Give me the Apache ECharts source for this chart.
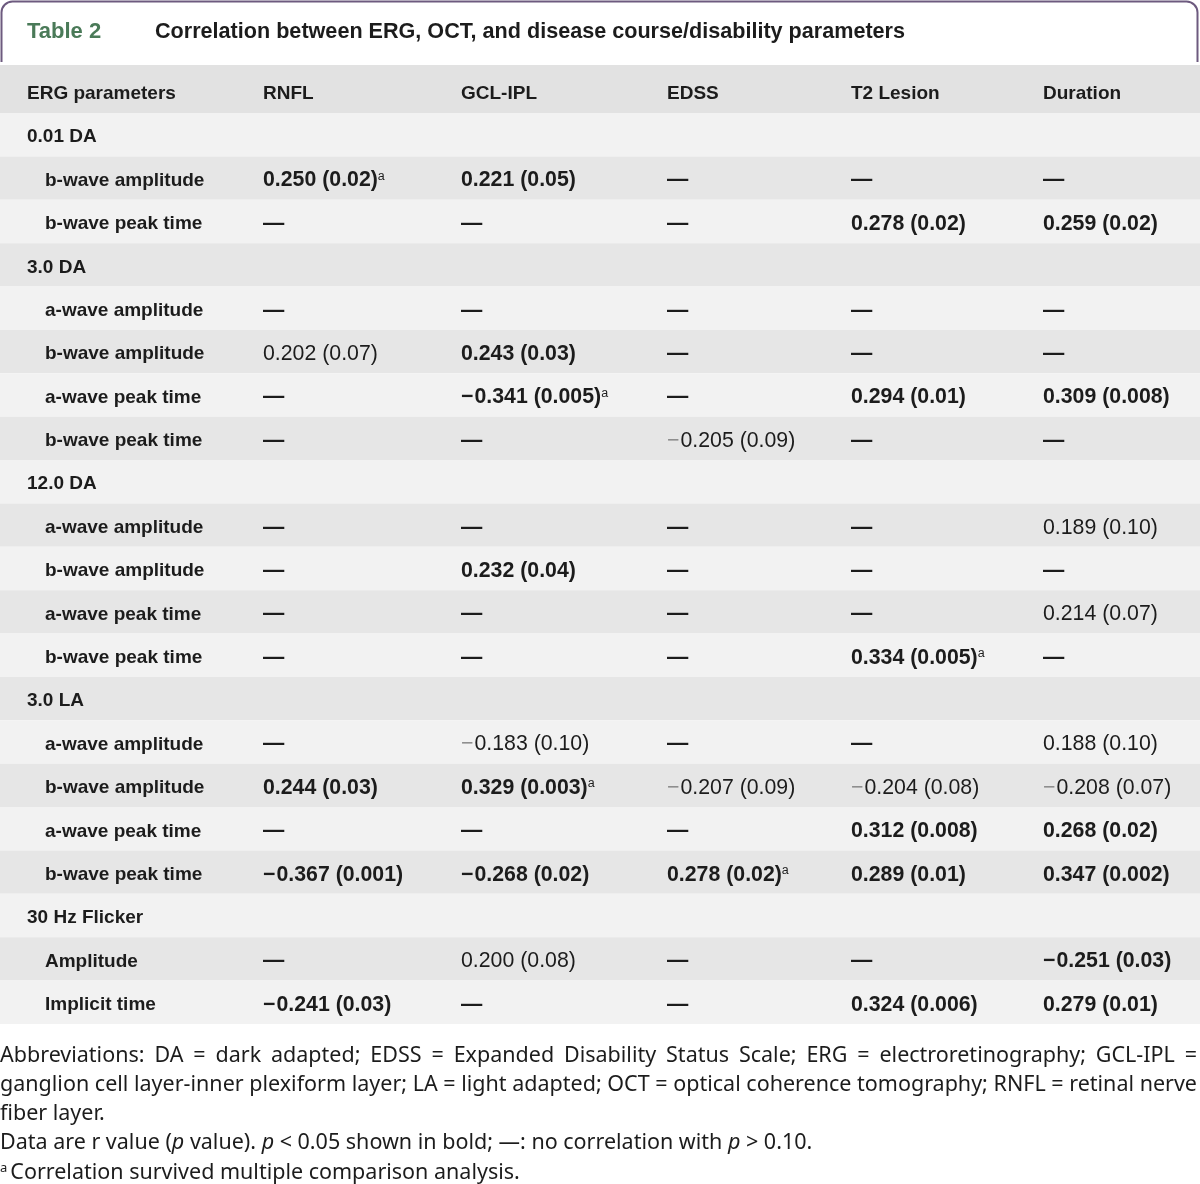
<!DOCTYPE html>
<html><head><meta charset="utf-8">
<script src="https://cdn.jsdelivr.net/npm/echarts@6/dist/echarts.min.js"></script>
<style>html,body{margin:0;padding:0;background:#fff}#c{width:1200px;height:1184px}</style>
</head><body><div id="c"></div>
<script>
// ---------- DATA ----------
const tableLabel = 'Table 2';
const tableTitle = 'Correlation between ERG, OCT, and disease course/disability parameters';
const columns = ['ERG parameters', 'RNFL', 'GCL-IPL', 'EDSS', 'T2 Lesion', 'Duration'];
const rowLabels = [
  '0.01 DA', 'b-wave amplitude', 'b-wave peak time',
  '3.0 DA', 'a-wave amplitude', 'b-wave amplitude', 'a-wave peak time', 'b-wave peak time',
  '12.0 DA', 'a-wave amplitude', 'b-wave amplitude', 'a-wave peak time', 'b-wave peak time',
  '3.0 LA', 'a-wave amplitude', 'b-wave amplitude', 'a-wave peak time', 'b-wave peak time',
  '30 Hz Flicker', 'Amplitude', 'Implicit time'
];
const groupRows = ['0.01 DA', '3.0 DA', '12.0 DA', '3.0 LA', '30 Hz Flicker'];
// cell notation: leading '*' = bold (p < 0.05), trailing '^' = superscript a, '' = group row
const RNFL = ['', '*0.250 (0.02)^', '—', '', '—', '0.202 (0.07)', '—', '—', '', '—', '—', '—', '—', '', '—', '*0.244 (0.03)', '—', '*−0.367 (0.001)', '', '—', '*−0.241 (0.03)'];
const GCL_IPL = ['', '*0.221 (0.05)', '—', '', '—', '*0.243 (0.03)', '*−0.341 (0.005)^', '—', '', '—', '*0.232 (0.04)', '—', '—', '', '−0.183 (0.10)', '*0.329 (0.003)^', '—', '*−0.268 (0.02)', '', '0.200 (0.08)', '—'];
const EDSS = ['', '—', '—', '', '—', '—', '—', '−0.205 (0.09)', '', '—', '—', '—', '—', '', '—', '−0.207 (0.09)', '—', '*0.278 (0.02)^', '', '—', '—'];
const T2_LESION = ['', '—', '*0.278 (0.02)', '', '—', '—', '*0.294 (0.01)', '—', '', '—', '—', '—', '*0.334 (0.005)^', '', '—', '−0.204 (0.08)', '*0.312 (0.008)', '*0.289 (0.01)', '', '—', '*0.324 (0.006)'];
const DURATION = ['', '—', '*0.259 (0.02)', '', '—', '—', '*0.309 (0.008)', '—', '', '0.189 (0.10)', '—', '0.214 (0.07)', '—', '', '0.188 (0.10)', '−0.208 (0.07)', '*0.268 (0.02)', '*0.347 (0.002)', '', '*−0.251 (0.03)', '*0.279 (0.01)'];
const footLine1 = 'Abbreviations: DA = dark adapted; EDSS = Expanded Disability Status Scale; ERG = electroretinography; GCL-IPL =';
const footLine2 = 'ganglion cell layer-inner plexiform layer; LA = light adapted; OCT = optical coherence tomography; RNFL = retinal nerve';
const footLine3 = 'fiber layer.';
const footLine4 = 'Data are r value ({i|p} value). {i|p} < 0.05 shown in bold; —: no correlation with {i|p} > 0.10.';
const footLine5 = '{sup|a}Correlation survived multiple comparison analysis.';

// ---------- STYLE / LAYOUT ----------
const valueCols = [RNFL, GCL_IPL, EDSS, T2_LESION, DURATION];
const colX = [27, 263, 461, 667, 851, 1043];
const subX = 45;
const INK = '#1c1c1c';
const FAM = '"Liberation Sans", Arial, sans-serif';
const FN_FAM = '"Noto Sans", sans-serif';
const FN_SIZE = 21.5;
const VAL_SIZE = 21.3;
const BODY_DY = 2.5, HEAD_DY = 4.5;
const HEAD_BG = '#e2e2e2', DARK_BG = '#e6e6e6', LIGHT_BG = '#f2f2f2';

const richCell = {
  b: {fontFamily: FAM, fontSize: VAL_SIZE, fontWeight: 'bold', fill: INK},
  r: {fontFamily: FAM, fontSize: VAL_SIZE, fontWeight: 'normal', fill: INK},
  bm: {fontFamily: FAM, fontSize: VAL_SIZE, fontWeight: 'bold', fill: INK, padding: [0, 1, 0, 0]},
  rm: {fontFamily: FAM, fontSize: VAL_SIZE, fontWeight: 'normal', fill: '#8a8a8a', padding: [0, 1, 0, 0]},
  sup: {fontFamily: FAM, fontSize: 12.5, fill: INK, verticalAlign: 'top', lineHeight: 8}
};
function cellMarkup(s) {
  let bold = s[0] === '*';
  if (bold) s = s.slice(1);
  let sup = s.endsWith('^');
  if (sup) s = s.slice(0, -1);
  let out = '';
  if (s[0] === '−') { out += '{' + (bold ? 'bm' : 'rm') + '|−}'; s = s.slice(1); }
  out += '{' + (bold || s === '—' ? 'b' : 'r') + '|' + s + '}';
  if (sup) out += '{sup|a}';
  return out;
}

function renderBody(params, api) {
  const i = api.value(1);
  const c = api.coord([0, i]);
  const h = api.size([0, 1])[1];
  const children = [{
    type: 'rect', shape: {x: c[0], y: c[1] - h / 2, width: 1200, height: h},
    style: {fill: i % 2 ? DARK_BG : LIGHT_BG}
  }];
  const label = rowLabels[i];
  const isGroup = groupRows.indexOf(label) >= 0;
  const lp = api.coord([isGroup ? colX[0] : subX, i]);
  children.push({type: 'text', style: {text: label, x: lp[0], y: lp[1] + BODY_DY, verticalAlign: 'middle', align: 'left',
    fontFamily: FAM, fontSize: 19, fontWeight: 'bold', fill: INK}});
  valueCols.forEach(function (arr, k) {
    const s = arr[i];
    if (!s) return;
    const p = api.coord([colX[k + 1], i]);
    children.push({type: 'text', style: {text: cellMarkup(s), rich: richCell, x: p[0], y: p[1] + BODY_DY,
      verticalAlign: 'middle', align: 'left', fontFamily: FAM, fontSize: VAL_SIZE, fill: INK}});
  });
  return {type: 'group', children: children};
}
function renderHead(params, api) {
  const c = api.coord([0, 0]);
  const h = api.size([0, 1])[1];
  const children = [{type: 'rect', shape: {x: c[0], y: c[1] - h / 2, width: 1200, height: h}, style: {fill: HEAD_BG}}];
  columns.forEach(function (name, k) {
    const p = api.coord([colX[k], 0]);
    children.push({type: 'text', style: {text: name, x: p[0], y: p[1] + HEAD_DY, verticalAlign: 'middle', align: 'left',
      fontFamily: FAM, fontSize: 19, fontWeight: 'bold', fill: INK}});
  });
  return {type: 'group', children: children};
}

// footnote justification
const mctx = document.createElement('canvas').getContext('2d');
function measure(t) { mctx.font = FN_SIZE + 'px ' + FN_FAM; return mctx.measureText(t).width; }
function justified(line, y, left, right) {
  const words = line.split(' ');
  const widths = words.map(measure);
  const total = widths.reduce(function (a, b) { return a + b; }, 0);
  const gap = (right - left - total) / (words.length - 1);
  let x = left;
  return words.map(function (w, k) {
    const el = {type: 'text', x: x, y: y, style: {text: w, fontFamily: FN_FAM, fontSize: FN_SIZE, fill: INK, verticalAlign: 'middle'}};
    x += widths[k] + gap;
    return el;
  });
}
const fnRich = {
  i: {fontFamily: FN_FAM, fontSize: FN_SIZE, fontStyle: 'italic', fill: INK},
  sup: {fontFamily: FN_FAM, fontSize: 13, fill: INK, verticalAlign: 'top', lineHeight: 10, padding: [0, 3, 0, 0]}
};

const graphics = [
  {type: 'rect', z: 0, shape: {x: 1.5, y: 1.5, width: 1196, height: 80, r: [11, 11, 0, 0]}, style: {fill: '#fff', stroke: '#6d5a7f', lineWidth: 2}},
  {type: 'rect', z: 1, shape: {x: 0, y: 62, width: 1200, height: 30}, style: {fill: '#fff'}},
  {type: 'text', z: 2, x: colX[0], y: 32, style: {text: tableLabel, fontFamily: FAM, fontSize: 22, fontWeight: 'bold', fill: '#4a7a58', verticalAlign: 'middle'}},
  {type: 'text', z: 2, x: 155, y: 32, style: {text: tableTitle, fontFamily: FAM, fontSize: 21.6, fontWeight: 'bold', fill: INK, verticalAlign: 'middle'}}
].concat(justified(footLine1, 1056, 0, 1197))
 .concat(justified(footLine2, 1085, 0, 1197))
 .concat([
  {type: 'text', x: 0, y: 1114, style: {text: footLine3, fontFamily: FN_FAM, fontSize: FN_SIZE, fill: INK, verticalAlign: 'middle'}},
  {type: 'text', x: 0, y: 1143, style: {text: footLine4, rich: fnRich, fontFamily: FN_FAM, fontSize: FN_SIZE, fill: INK, verticalAlign: 'middle'}},
  {type: 'text', x: 0, y: 1173, style: {text: footLine5, rich: fnRich, fontFamily: FN_FAM, fontSize: FN_SIZE, fill: INK, verticalAlign: 'middle'}}
 ]);

const chart = echarts.init(document.getElementById('c'));
chart.setOption({
  animation: false,
  backgroundColor: '#fff',
  grid: [
    {left: 0, right: 0, top: 65, height: 48},
    {left: 0, right: 0, top: 113, height: 911}
  ],
  xAxis: [
    {gridIndex: 0, type: 'value', min: 0, max: 1200, show: false},
    {gridIndex: 1, type: 'value', min: 0, max: 1200, show: false}
  ],
  yAxis: [
    {gridIndex: 0, type: 'category', data: ['header'], show: false},
    {gridIndex: 1, type: 'category', data: rowLabels.map(function (l, i) { return i + ':' + l; }), inverse: true, show: false}
  ],
  series: [
    {type: 'custom', xAxisIndex: 0, yAxisIndex: 0, z: 3, data: [[0, 0]], encode: {x: 0, y: 1}, renderItem: renderHead},
    {type: 'custom', xAxisIndex: 1, yAxisIndex: 1, z: 3, data: rowLabels.map(function (l, i) { return [0, i]; }), encode: {x: 0, y: 1}, renderItem: renderBody}
  ],
  graphic: graphics
});
</script></body></html>
